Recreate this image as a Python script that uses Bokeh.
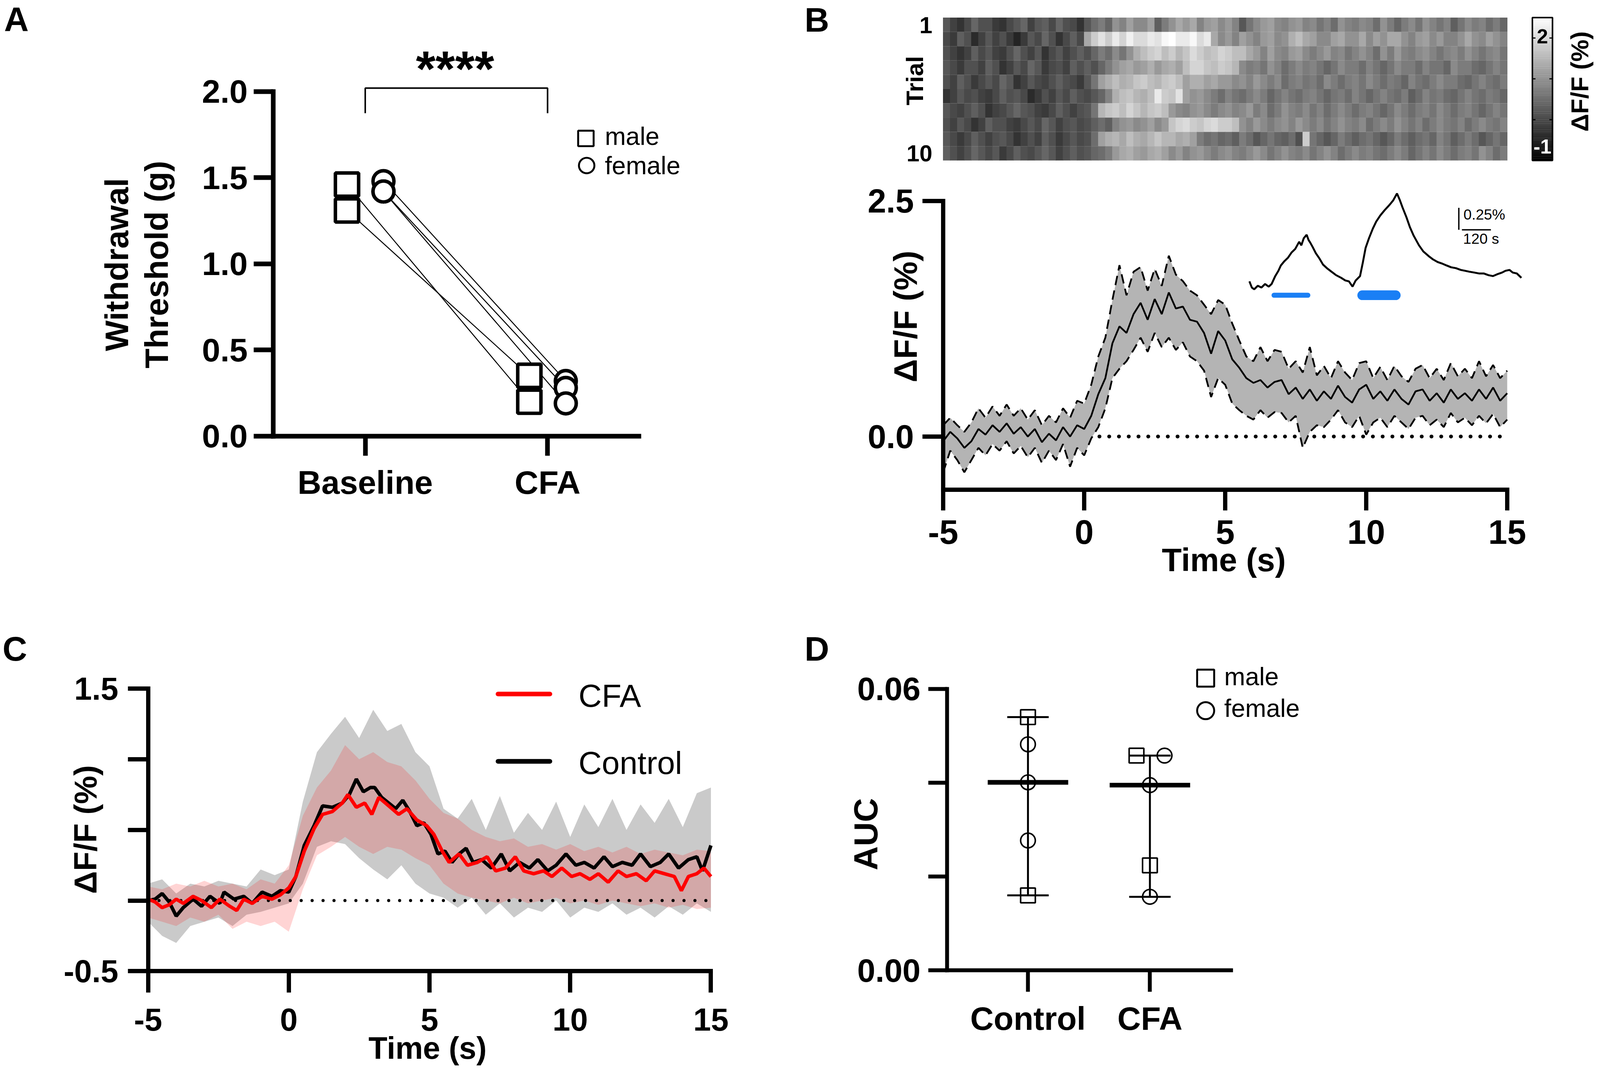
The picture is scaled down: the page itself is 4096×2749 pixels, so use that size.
import math
import statistics
from bokeh.plotting import figure
from bokeh.models import Range1d, Label, FixedTicker, PrintfTickFormatter, ColumnDataSource
from bokeh.layouts import row, column
from bokeh.embed import file_html
from bokeh.resources import INLINE
from bokeh.transform import linear_cmap

# ======================= DATA =======================
# Panel A: withdrawal threshold (g)
A_groups = ["Baseline", "CFA"]
A_male_baseline = [1.46, 1.31]
A_male_cfa = [0.20, 0.35]
A_female_baseline = [1.48, 1.42, 1.42]
A_female_cfa = [0.32, 0.28, 0.19]
A_sig = "****"

# Panel B heatmap: 10 trials x 80 time bins of 0.25 s starting at -5 s, dF/F (%)
B_heat_start, B_heat_bin = -5.0, 0.25
B_heat_rows = [
    [0.2, -0.1, -0.3, 0.0, 0.4, 0.1, 0.1, -0.2, -0.3, 0.0, 0.2, 0.4, -0.1, 0.2, 0.3, 0.0, 0.4, 0.1, 0.0, -0.3,
     0.2, 0.5, 0.7, 0.4, 1.0, 0.8, 1.2, 0.9, 0.9, 1.2, 0.3, 0.7, 1.0, 1.3, 1.1, 1.3, 0.8, 1.1, 1.2, 0.9,
     1.1, 0.8, 0.2, 0.6, 0.9, 1.1, 1.2, 0.9, 0.8, 1.0, 1.1, 0.8, 0.9, 0.6, 0.8, 0.5, 1.0, 0.8, 0.7, 0.9,
     0.8, 0.5, 1.0, 0.7, 0.4, 0.7, 0.9, 0.6, 1.0, 0.8, 0.6, 0.8, 0.3, 0.6, 0.9, 0.7, 0.8, 0.5, 0.7, 0.4],
    [0.0, -0.2, 0.3, 0.1, -0.4, -0.1, 0.2, -0.1, 0.1, -0.2, -0.5, -0.2, 0.2, 0.0, 0.4, 0.1, -0.3, 0.0, 0.3, 0.0,
     1.3, 1.8, 2.1, 1.8, 2.2, 1.9, 2.3, 2.0, 2.0, 2.2, 2.1, 2.4, 2.5, 2.2, 2.2, 2.4, 2.0, 2.2, 1.3, 0.9,
     1.1, 0.8, 1.2, 1.0, 0.8, 1.1, 1.2, 0.9, 1.0, 1.4, 1.6, 1.3, 1.2, 0.9, 0.9, 1.2, 1.3, 1.0, 1.0, 1.3,
     0.9, 1.2, 1.0, 1.3, 1.3, 1.0, 0.8, 1.1, 1.2, 0.9, 1.1, 0.8, 0.8, 1.0, 1.3, 1.0, 0.9, 1.2, 1.0, 0.8],
    [0.1, -0.1, -0.3, -0.1, 0.3, 0.0, 0.2, -0.1, -0.2, 0.1, 0.4, 0.1, -0.1, 0.2, -0.3, 0.0, 0.2, -0.1, 0.1, 0.3,
     0.1, 0.4, 0.7, 0.5, 0.9, 0.6, 1.0, 1.4, 1.6, 1.8, 1.9, 1.6, 1.8, 1.5, 1.7, 2.0, 1.8, 1.6, 1.7, 1.9,
     1.8, 1.6, 1.6, 1.3, 1.1, 0.8, 1.2, 0.9, 0.8, 1.1, 1.2, 0.9, 0.7, 0.9, 1.1, 0.8, 0.9, 0.6, 0.8, 1.0,
     0.8, 0.5, 1.0, 0.7, 1.1, 0.8, 0.7, 0.9, 1.0, 0.8, 0.6, 0.8, 0.9, 0.7, 1.0, 0.8, 0.6, 0.8, 0.9, 0.6],
    [0.2, 0.0, -0.2, 0.1, 0.1, -0.1, 0.3, 0.1, -0.3, -0.1, 0.2, 0.0, 0.4, 0.2, -0.2, 0.0, 0.1, -0.1, 0.3, 0.1,
     0.3, 0.1, 0.4, 0.7, 1.0, 1.2, 1.3, 1.1, 1.2, 1.4, 1.1, 1.3, 1.4, 1.2, 1.6, 1.9, 1.9, 1.7, 1.6, 1.8,
     1.7, 1.5, 0.9, 0.7, 0.8, 0.6, 1.0, 0.8, 0.5, 0.7, 0.9, 0.7, 0.8, 0.6, 0.4, 0.6, 0.9, 0.7, 0.7, 0.5,
     0.8, 0.6, 0.4, 0.6, 0.9, 0.7, 0.7, 0.5, 0.8, 0.6, 0.6, 0.4, 0.9, 0.7, 0.7, 0.5, 0.4, 0.6, 0.8, 0.6],
    [0.1, -0.1, 0.3, 0.1, -0.2, 0.0, 0.2, 0.0, 0.4, 0.2, -0.3, -0.1, 0.2, 0.0, -0.1, 0.1, 0.3, 0.1, 0.0, -0.2,
     0.2, 0.6, 1.2, 1.4, 1.6, 1.4, 1.5, 1.7, 1.8, 1.6, 1.5, 1.7, 1.8, 1.6, 1.2, 1.4, 1.4, 1.2, 1.3, 1.1,
     1.1, 0.9, 1.0, 0.8, 1.1, 0.9, 0.7, 0.9, 0.5, 0.7, 0.8, 0.6, 0.7, 0.5, 0.9, 0.7, 0.5, 0.7, 0.8, 0.6,
     0.9, 0.7, 0.5, 0.7, 0.6, 0.4, 0.8, 0.6, 0.5, 0.7, 0.9, 0.7, 0.7, 0.5, 0.4, 0.6, 0.8, 0.6, 0.5, 0.7],
    [-0.3, -0.1, 0.2, 0.0, 0.1, -0.1, -0.2, 0.0, 0.3, 0.1, 0.2, 0.0, -0.4, -0.2, 0.1, -0.1, 0.2, 0.0, 0.3, 0.1,
     0.0, 0.2, 0.4, 0.8, 1.4, 1.6, 1.7, 1.5, 1.4, 1.6, 2.2, 1.8, 1.7, 2.1, 1.2, 1.0, 1.1, 0.9, 0.7, 0.5,
     0.8, 0.6, 0.5, 0.7, 0.9, 0.7, 0.4, 0.6, 0.8, 0.6, 0.5, 0.7, 0.8, 0.6, 0.4, 0.6, 0.7, 0.5, 0.8, 0.6,
     0.4, 0.6, 0.8, 0.6, 0.5, 0.7, 0.3, 0.5, 0.8, 0.6, 0.7, 0.5, 0.4, 0.6, 0.8, 0.6, 0.5, 0.7, 0.6, 0.4],
    [0.2, 0.0, -0.1, 0.1, 0.3, 0.1, -0.3, -0.1, 0.0, 0.2, 0.4, 0.2, 0.1, -0.1, -0.2, 0.0, 0.3, 0.1, -0.1, 0.1,
     0.2, 0.6, 1.5, 1.7, 1.8, 1.6, 1.9, 1.7, 1.5, 1.7, 1.8, 1.6, 1.1, 0.9, 0.8, 1.0, 1.1, 0.9, 0.7, 0.9,
     1.0, 0.8, 0.9, 1.1, 0.7, 0.9, 0.5, 0.7, 1.0, 0.8, 0.7, 0.9, 0.6, 0.8, 0.5, 0.7, 0.9, 0.7, 0.5, 0.7,
     0.8, 0.6, 0.4, 0.6, 0.9, 0.7, 0.5, 0.7, 0.8, 0.6, 0.9, 0.7, 0.5, 0.7, 0.8, 0.6, 0.4, 0.6, 0.8, 0.6],
    [0.1, -0.1, 0.2, 0.0, -0.3, -0.1, 0.3, 0.1, 0.1, -0.1, -0.2, 0.0, 0.2, 0.0, 0.4, 0.2, -0.1, 0.1, 0.2, 0.0,
     0.1, 0.3, 0.5, 0.3, 0.8, 1.0, 1.1, 0.9, 1.0, 1.2, 0.9, 1.1, 1.7, 1.9, 2.0, 1.8, 1.7, 1.9, 2.0, 1.8,
     1.8, 1.6, 1.0, 0.8, 1.1, 0.9, 0.7, 0.9, 1.0, 0.8, 1.1, 0.9, 0.7, 0.9, 0.6, 0.8, 1.0, 0.8, 0.7, 0.9,
     0.5, 0.7, 0.9, 0.7, 1.0, 0.8, 0.6, 0.8, 0.5, 0.7, 0.9, 0.7, 0.6, 0.8, 0.5, 0.7, 0.9, 0.7, 0.6, 0.8],
    [0.2, 0.0, -0.2, 0.0, 0.3, 0.1, -0.1, 0.1, 0.2, 0.0, -0.3, -0.1, 0.1, -0.1, 0.3, 0.1, -0.2, 0.0, 0.2, 0.0,
     0.1, 0.5, 1.2, 1.4, 1.5, 1.3, 1.6, 1.4, 1.3, 1.5, 1.7, 1.5, 1.5, 1.3, 1.4, 1.2, 0.7, 0.5, 0.6, 0.4,
     0.5, 0.3, 0.7, 0.5, 0.2, 0.4, 0.6, 0.4, 0.3, 0.5, 0.1, 1.8, 0.6, 0.4, 0.2, 0.4, 0.7, 0.5, 0.3, 0.5,
     0.6, 0.4, 0.2, 0.4, 0.7, 0.5, 0.3, 0.5, 0.6, 0.4, 0.8, 0.6, 0.3, 0.5, 0.7, 0.5, 0.2, 0.4, 0.6, 0.4],
    [0.3, 0.1, -0.1, 0.1, 0.4, 0.2, 0.0, 0.2, -0.2, 0.0, 0.3, 0.1, 0.0, 0.2, 0.4, 0.2, -0.1, 0.1, 0.3, 0.1,
     0.2, 0.4, 0.5, 0.7, 1.1, 1.3, 1.4, 1.2, 1.1, 1.3, 1.4, 1.2, 0.9, 1.1, 0.8, 1.0, 1.1, 0.9, 0.7, 0.9,
     1.0, 0.8, 0.7, 0.9, 1.1, 0.9, 0.6, 0.8, 1.0, 0.8, 0.7, 0.9, 0.6, 0.8, 1.0, 0.8, 0.5, 0.7, 0.9, 0.7,
     0.8, 0.6, 0.5, 0.7, 0.9, 0.7, 0.4, 0.6, 0.8, 0.6, 0.9, 0.7, 0.5, 0.7, 0.8, 0.6, 1.0, 0.8, 0.5, 0.7],
]
B_heat_low, B_heat_high = -1.0, 2.5

# Panel B average trace (mean, mean+SEM, mean-SEM)
B_t = [-5.0, -4.75, -4.5, -4.25, -4.0, -3.75, -3.5, -3.25, -3.0, -2.75,
       -2.5, -2.25, -2.0, -1.75, -1.5, -1.25, -1.0, -0.75, -0.5, -0.25,
       0.0, 0.25, 0.5, 0.75, 1.0, 1.25, 1.5, 1.75, 2.0, 2.25,
       2.5, 2.75, 3.0, 3.25, 3.5, 3.75, 4.0, 4.25, 4.5, 4.75,
       5.0, 5.25, 5.5, 5.75, 6.0, 6.25, 6.5, 6.75, 7.0, 7.25,
       7.5, 7.75, 8.0, 8.25, 8.5, 8.75, 9.0, 9.25, 9.5, 9.75,
       10.0, 10.25, 10.5, 10.75, 11.0, 11.25, 11.5, 11.75, 12.0, 12.25,
       12.5, 12.75, 13.0, 13.25, 13.5, 13.75, 14.0, 14.25, 14.5, 14.75, 15.0]
B_mean = [-0.05, 0.05, -0.02, -0.12, -0.05, 0.08, 0.02, 0.12, 0.05, 0.14,
          0.03, 0.10, 0.0, 0.08, -0.06, 0.03, -0.04, 0.10, 0.0, 0.12,
          0.08, 0.22, 0.45, 0.62, 0.99, 1.17, 1.10, 1.30, 1.42, 1.24,
          1.46, 1.30, 1.53, 1.36, 1.38, 1.24, 1.22, 1.10, 0.88, 1.12,
          1.02, 0.82, 0.73, 0.62, 0.57, 0.60, 0.52, 0.58, 0.60, 0.45,
          0.52, 0.40, 0.50, 0.38, 0.48, 0.40, 0.54, 0.42, 0.36, 0.50,
          0.55, 0.40, 0.48, 0.38, 0.50, 0.40, 0.34, 0.48, 0.50, 0.38,
          0.46, 0.36, 0.50, 0.40, 0.46, 0.38, 0.50, 0.40, 0.52, 0.38, 0.46]
B_upper = [0.12, 0.20, 0.12, 0.05, 0.15, 0.30, 0.20, 0.32, 0.22, 0.34,
           0.22, 0.30, 0.18, 0.28, 0.12, 0.22, 0.15, 0.30, 0.20, 0.38,
           0.35, 0.55, 0.85, 1.05, 1.45, 1.82, 1.50, 1.75, 1.80, 1.55,
           1.78, 1.60, 1.92, 1.72, 1.65, 1.55, 1.50, 1.40, 1.30, 1.45,
           1.40, 1.20, 1.02, 0.85, 0.80, 0.95, 0.80, 0.92, 0.90, 0.72,
           0.80, 0.68, 0.95, 0.65, 0.75, 0.62, 0.80, 0.68, 0.60, 0.78,
           0.80, 0.62, 0.74, 0.60, 0.75, 0.64, 0.58, 0.72, 0.76, 0.62,
           0.72, 0.60, 0.78, 0.64, 0.72, 0.62, 0.80, 0.64, 0.76, 0.62, 0.70]
B_lower = [-0.38, -0.15, -0.25, -0.38, -0.25, -0.12, -0.20, -0.08, -0.15, -0.05,
           -0.18, -0.10, -0.22, -0.12, -0.28, -0.15, -0.25, -0.08, -0.32, -0.12,
           -0.20, -0.02, 0.10, 0.30, 0.62, 0.72, 0.80, 0.92, 1.05, 0.90,
           1.10, 0.95, 1.05, 0.92, 1.00, 0.85, 0.80, 0.70, 0.42, 0.62,
           0.55, 0.35, 0.28, 0.22, 0.18, 0.28, 0.20, 0.26, 0.25, 0.15,
           0.22, -0.12, 0.05, 0.12, 0.10, 0.18, 0.28, 0.15, 0.10, 0.22,
           0.02, 0.15, 0.20, 0.10, 0.22, 0.15, 0.08, 0.20, 0.22, 0.12,
           0.18, 0.10, 0.25, 0.15, 0.20, 0.12, 0.22, 0.14, 0.24, 0.10, 0.18]

# Panel B inset: example trace (time in s, dF/F in %) and stimulus epochs
B_inset_t = [0, 10, 20, 35, 50, 65, 80, 92, 107, 120,
             130, 145, 160, 175, 190, 206, 215, 225, 237, 245,
             252, 262, 275, 290, 305, 321, 340, 359, 380, 397,
             412, 427, 440, 458, 470, 481, 495, 511, 525, 542,
             560, 580, 595, 611, 622, 634, 650, 664, 680, 702,
             720, 741, 760, 779, 800, 817, 835, 855, 875, 893,
             910, 931, 950, 970, 990, 1008, 1025, 1046, 1060, 1077,
             1090, 1107, 1126]
B_inset_v = [0.03, -0.04, -0.06, -0.02, -0.04, 0.00, -0.03, 0.00, 0.09, 0.15,
             0.21, 0.26, 0.30, 0.36, 0.40, 0.48, 0.44, 0.52, 0.56, 0.50,
             0.47, 0.42, 0.35, 0.29, 0.22, 0.18, 0.14, 0.10, 0.07, 0.04,
             0.03, -0.03, 0.04, 0.09, 0.25, 0.41, 0.52, 0.63, 0.71, 0.78,
             0.84, 0.90, 0.95, 1.03, 0.96, 0.87, 0.76, 0.65, 0.55, 0.44,
             0.37, 0.32, 0.28, 0.25, 0.23, 0.21, 0.19, 0.18, 0.16, 0.15,
             0.14, 0.13, 0.12, 0.12, 0.10, 0.09, 0.11, 0.13, 0.15, 0.16,
             0.13, 0.12, 0.07]
B_stim_on = [102, 467]
B_stim_off = [242, 606]
B_scale_pct = 0.25
B_scale_s = 120

# Panel C: CFA vs Control average traces
C_ctrl_t = [-5.0, -4.75, -4.5, -4.25, -4.0, -3.75, -3.4, -3.1, -2.8, -2.45, -2.3, -1.95, -1.6, -1.3, -0.95,
            -0.6, -0.3, 0.0, 0.25, 0.55, 0.9, 1.2, 1.55, 1.9, 2.15, 2.4, 2.65, 2.9, 3.05, 3.3, 3.55, 3.8,
            4.05, 4.3, 4.55, 4.8, 5.05, 5.3, 5.55, 5.8, 6.05, 6.3, 6.55, 6.85, 7.2, 7.55, 7.85, 8.2, 8.55,
            8.85, 9.2, 9.5, 9.85, 10.2, 10.5, 10.85, 11.2, 11.5, 11.85, 12.2, 12.5, 12.85, 13.2, 13.5,
            13.85, 14.2, 14.5, 14.7, 15.0]
C_ctrl = [0.0, 0.01, 0.05, -0.01, -0.11, -0.05, 0.01, -0.04, 0.03, -0.02, 0.06, 0.01, 0.03, -0.02, 0.06,
          0.03, 0.07, 0.06, 0.17, 0.39, 0.53, 0.67, 0.66, 0.69, 0.75, 0.86, 0.77, 0.80, 0.80, 0.73, 0.69, 0.65,
          0.71, 0.63, 0.53, 0.55, 0.47, 0.33, 0.35, 0.27, 0.33, 0.37, 0.27, 0.29, 0.23, 0.33, 0.21, 0.27, 0.23,
          0.29, 0.21, 0.25, 0.33, 0.25, 0.27, 0.23, 0.31, 0.24, 0.27, 0.25, 0.33, 0.24, 0.27, 0.33,
          0.23, 0.29, 0.31, 0.21, 0.39]
C_cfa_t = [-5.0, -4.75, -4.5, -4.25, -4.0, -3.75, -3.4, -3.1, -2.75, -2.45, -2.1, -1.85, -1.6, -1.3, -0.95,
           -0.6, -0.3, 0.0, 0.25, 0.55, 0.9, 1.2, 1.55, 1.9, 2.1, 2.4, 2.7, 2.95, 3.2, 3.55, 3.9, 4.2, 4.55,
           4.9, 5.15, 5.45, 5.7, 6.05, 6.35, 6.7, 7.05, 7.35, 7.7, 8.05, 8.35, 8.7, 9.05, 9.35, 9.7, 10.05,
           10.35, 10.7, 11.0, 11.35, 11.7, 12.0, 12.35, 12.7, 13.0, 13.35, 13.7, 13.95, 14.2, 14.5, 14.75, 15.0]
C_cfa = [0.01, -0.01, -0.05, -0.03, 0.01, -0.02, 0.03, 0.0, -0.05, 0.01, -0.04, -0.07, 0.01, -0.02, 0.03,
         0.01, 0.04, 0.09, 0.17, 0.35, 0.51, 0.61, 0.63, 0.69, 0.75, 0.66, 0.69, 0.61, 0.73, 0.67, 0.61, 0.65, 0.57,
         0.53, 0.47, 0.35, 0.27, 0.33, 0.25, 0.27, 0.31, 0.21, 0.23, 0.31, 0.21, 0.19, 0.21, 0.17, 0.23, 0.17,
         0.19, 0.15, 0.19, 0.13, 0.21, 0.17, 0.19, 0.14, 0.21, 0.19, 0.17, 0.07, 0.17, 0.19, 0.23, 0.17]
C_band_t = [-5.0, -4.5, -4.0, -3.5, -3.0, -2.5, -2.0, -1.5, -1.0, -0.5, 0.0, 0.5, 1.0, 1.5, 2.0, 2.5, 3.0,
            3.5, 4.0, 4.5, 5.0, 5.5, 6.0, 6.5, 7.0, 7.5, 8.0, 8.5, 9.0, 9.5, 10.0, 10.5, 11.0, 11.5, 12.0,
            12.5, 13.0, 13.5, 14.0, 14.5, 15.0]
C_ctrl_up = [0.12, 0.15, 0.05, 0.12, 0.10, 0.14, 0.12, 0.10, 0.22, 0.18, 0.22, 0.70, 1.05, 1.18, 1.30, 1.15, 1.35,
             1.20, 1.25, 1.05, 0.95, 0.65, 0.58, 0.72, 0.50, 0.74, 0.48, 0.62, 0.50, 0.70, 0.45, 0.68, 0.52,
             0.72, 0.50, 0.68, 0.55, 0.72, 0.52, 0.76, 0.80]
C_ctrl_lo = [-0.15, -0.25, -0.30, -0.18, -0.15, -0.12, -0.18, -0.10, -0.08, -0.05, -0.02, 0.12, 0.38, 0.42, 0.40,
             0.30, 0.22, 0.15, 0.25, 0.12, 0.05, 0.02, -0.05, 0.02, -0.10, -0.02, -0.12, -0.05, -0.08, 0.0,
             -0.12, -0.05, -0.08, -0.02, -0.10, -0.05, -0.12, -0.04, -0.10, -0.02, -0.08]
C_cfa_up = [0.10, 0.08, 0.12, 0.10, 0.14, 0.10, 0.12, 0.08, 0.15, 0.12, 0.25, 0.60, 0.80, 0.92, 1.10, 1.00, 1.05,
            0.98, 0.95, 0.85, 0.72, 0.62, 0.58, 0.50, 0.45, 0.42, 0.44, 0.38, 0.40, 0.36, 0.40, 0.35, 0.38,
            0.34, 0.38, 0.33, 0.36, 0.34, 0.32, 0.36, 0.35]
C_cfa_lo = [-0.12, -0.15, -0.18, -0.12, -0.15, -0.10, -0.20, -0.15, -0.18, -0.15, -0.22, 0.08, 0.32, 0.38, 0.45,
            0.38, 0.33, 0.38, 0.36, 0.30, 0.25, 0.12, 0.05, 0.02, 0.0, -0.02, 0.02, -0.02, 0.0, 0.02, -0.02,
            0.0, -0.03, 0.0, -0.02, -0.04, -0.02, -0.05, -0.03, -0.06, -0.05]

# Panel D: AUC
D_groups = ["Control", "CFA"]
D_ctrl_male = [0.0540, 0.0160]
D_ctrl_female = [0.0482, 0.0401, 0.0277]
D_cfa_male = [0.0458, 0.0224]
D_cfa_female = [0.0458, 0.0395, 0.0157]

assert len(B_t) == len(B_mean) == len(B_upper) == len(B_lower)
assert len(B_inset_t) == len(B_inset_v)
assert len(C_ctrl_t) == len(C_ctrl) and len(C_cfa_t) == len(C_cfa)
assert len(C_band_t) == len(C_ctrl_up) == len(C_ctrl_lo) == len(C_cfa_up) == len(C_cfa_lo)
assert all(len(r) == 80 for r in B_heat_rows), [len(r) for r in B_heat_rows]

# ======================= LAYOUT HELPERS =======================
S = 0.991
W_TOTAL, H_TOTAL = 4080, 2733
XS = round(2060 * S)
YS = round(1560 * S)
YH = round(460 * S)
FONT = "Liberation Sans"


def lin(ra, va, rb, vb):
    k = (vb - va) / (rb - ra)
    return lambda r: va + (r - ra) * k


def fs(r):
    return f"{r * S:.1f}px"


def mk(ox, oy, w, h, xmap, ymap, axes=True):
    """Figure whose plotting frame covers its whole canvas; (ox, oy) its page offset in px."""
    fx = lin(*xmap)
    fy = lin(*ymap)
    xr = Range1d(fx(ox / S), fx((ox + w) / S))
    yr = Range1d(fy((oy + h) / S), fy(oy / S))
    kw = {}
    if not axes:
        kw = dict(x_axis_type=None, y_axis_type=None)
    p = figure(width=w, height=h, x_range=xr, y_range=yr, output_backend="svg",
               toolbar_location=None, title_location=None, min_border=0, frame_align=False, **kw)
    p.outline_line_color = None
    p.grid.visible = False
    p.background_fill_color = "white"
    p.border_fill_color = "white"
    return p, fx, fy


def style_axis(ax, lw, tick, size, standoff):
    ax.axis_line_width = lw * S
    ax.axis_line_color = "black"
    ax.axis_line_cap = "square"
    ax.major_tick_line_width = lw * S
    ax.major_tick_line_color = "black"
    ax.major_tick_in = 0
    ax.major_tick_out = round(tick * S)
    ax.minor_tick_line_width = lw * S
    ax.minor_tick_line_color = "black"
    ax.minor_tick_in = 0
    ax.minor_tick_out = round(tick * S)
    ax.major_label_text_font = FONT
    ax.major_label_text_font_size = fs(size)
    ax.major_label_text_font_style = "bold"
    ax.major_label_text_color = "black"
    ax.major_label_standoff = round(standoff * S)


def lab(p, fx, fy, rx, ry, text, size, bold=True, align="left", baseline="middle",
        angle=0.0, color="black"):
    p.add_layout(Label(x=fx(rx), y=fy(ry), text=text, text_font=FONT, text_font_size=fs(size),
                       text_font_style="bold" if bold else "normal", text_align=align,
                       text_baseline=baseline, angle=angle, text_color=color))


# ======================= PANEL A =======================
pA, fxA, fyA = mk(0, 0, XS, YS, (943, 0, 1414, 1), (1126, 0, 236, 2))
ya = pA.yaxis[0]
style_axis(ya, 12, 50, 85, 15)
ya.ticker = FixedTicker(ticks=[0, 0.5, 1.0, 1.5, 2.0], minor_ticks=[])
ya.formatter = PrintfTickFormatter(format="%.1f")
ya.bounds = (0, 2)
ya.fixed_location = fxA(705)
xa = pA.xaxis[0]
style_axis(xa, 12, 50, 85, 22)
xa.ticker = FixedTicker(ticks=[0, 1], minor_ticks=[])
xa.major_label_overrides = {0: A_groups[0], 1: A_groups[1]}
xa.bounds = (fxA(705), fxA(1650))
xa.fixed_location = 0

OFF = 0.1
xs_l, ys_l = [], []
for b, c in zip(A_male_baseline, A_male_cfa):
    xs_l.append([0 - OFF, 1 - OFF]); ys_l.append([b, c])
for b, c in zip(A_female_baseline, A_female_cfa):
    xs_l.append([0 + OFF, 1 + OFF]); ys_l.append([b, c])
pA.multi_line(xs_l, ys_l, line_color="black", line_width=2.5 * S)
pA.scatter([0 - OFF] * len(A_male_baseline) + [1 - OFF] * len(A_male_cfa), A_male_baseline + A_male_cfa,
           marker="square", size=60 * S, line_color="black", line_width=9 * S, fill_color="white")
pA.scatter([0 + OFF] * len(A_female_baseline) + [1 + OFF] * len(A_female_cfa), A_female_baseline + A_female_cfa,
           marker="circle", size=54 * S, line_color="black", line_width=9 * S, fill_color="white")
# significance bracket
pA.line([0, 0, 1, 1], [fyA(292), fyA(227), fyA(227), fyA(292)], line_color="black", line_width=4 * S)
lab(pA, fxA, fyA, 1175, 176, A_sig, 130, align="center", baseline="alphabetic")
# legend
pA.scatter([fxA(1513)], [fyA(357)], marker="square", size=40 * S, line_color="black", line_width=5 * S,
           fill_color="white")
pA.scatter([fxA(1515)], [fyA(427)], marker="circle", size=40 * S, line_color="black", line_width=5 * S,
           fill_color="white")
lab(pA, fxA, fyA, 1562, 352, "male", 65, bold=False)
lab(pA, fxA, fyA, 1562, 427, "female", 65, bold=False)
# titles
lab(pA, fxA, fyA, 302, 683, "Withdrawal", 84, align="center", angle=math.pi / 2)
lab(pA, fxA, fyA, 405, 683, "Threshold (g)", 84, align="center", angle=math.pi / 2)
lab(pA, fxA, fyA, 10, 48, "A", 88)

# ======================= PANEL B: heatmap =======================
pH, fxH, fyH = mk(XS, 0, W_TOTAL - XS, YH, (2436, -5, 3893, 15), (45, 0.5, 414, 10.5), axes=False)
GRAYS = ["#%02x%02x%02x" % (i, i, i) for i in range(256)]
hx, hy, hv = [], [], []
for i, r in enumerate(B_heat_rows):
    for k, v in enumerate(r):
        hx.append(B_heat_start + (k + 0.5) * B_heat_bin); hy.append(i + 1); hv.append(v)
hsrc = ColumnDataSource(dict(x=hx, y=hy, v=hv))
pH.rect(x="x", y="y", width=B_heat_bin * 1.06, height=1.0, source=hsrc,
        fill_color=linear_cmap("v", GRAYS, B_heat_low, B_heat_high), line_color=None)
# colorbar
NCB = 70
cb_v = [B_heat_low + (B_heat_high - B_heat_low) * (i + 0.5) / NCB for i in range(NCB)]
cb_R = [414 - (v - B_heat_low) / (B_heat_high - B_heat_low) * 369 for v in cb_v]
cbx = fxH(3984)
cbw = fxH(4010) - fxH(3958)
cb_src = ColumnDataSource(dict(x=[cbx] * NCB, y=[fyH(r) for r in cb_R], v=cb_v))
pH.rect(x="x", y="y", width=cbw, height=(369 / NCB) / 36.9 * 1.05, source=cb_src,
        fill_color=linear_cmap("v", GRAYS, B_heat_low, B_heat_high), line_color=None)
pH.rect(x=[cbx], y=[fyH(229.5)], width=cbw, height=369 / 36.9, fill_color=None, line_color="black",
        line_width=4 * S)
tk_vals = [2, 1, 0]
tk_y = [fyH(414 - (v - B_heat_low) / (B_heat_high - B_heat_low) * 369) for v in tk_vals]
tkl = 8 / 72.85
pH.segment(x0=[fxH(3958)] * 3 + [fxH(4010)] * 3, x1=[fxH(3958) + tkl] * 3 + [fxH(4010) - tkl] * 3,
           y0=tk_y + tk_y, y1=tk_y + tk_y, line_color="black", line_width=3 * S)
lab(pH, fxH, fyH, 3984, 93, "2", 52, align="center")
lab(pH, fxH, fyH, 3984, 378, "-1", 52, align="center", color="white")
lab(pH, fxH, fyH, 4080, 210, "\u0394F/F (%)", 64, align="center", angle=math.pi / 2)
lab(pH, fxH, fyH, 2362, 208, "Trial", 62, align="center", angle=math.pi / 2)
lab(pH, fxH, fyH, 2408, 65, "1", 60, align="right")
lab(pH, fxH, fyH, 2408, 396, "10", 60, align="right")
lab(pH, fxH, fyH, 2078, 50, "B", 88)

# ======================= PANEL B: trace =======================
pT, fxT, fyT = mk(XS, YH, W_TOTAL - XS, YS - YH, (2436, -5, 3893, 15), (1127, 0, 519, 2.5))
yb = fyT(1264)
ya = pT.yaxis[0]
style_axis(ya, 11, 53, 86, 22)
ya.ticker = FixedTicker(ticks=[0, 2.5], minor_ticks=[])
ya.formatter = PrintfTickFormatter(format="%.1f")
ya.bounds = (yb, 2.5)
ya.fixed_location = -5
xa = pT.xaxis[0]
style_axis(xa, 11, 53, 88, 25)
xa.ticker = FixedTicker(ticks=[-5, 0, 5, 10, 15], minor_ticks=[])
xa.formatter = PrintfTickFormatter(format="%d")
xa.bounds = (-5, 15)
xa.fixed_location = yb

pT.line([-5, 15], [0, 0], line_color="black", line_width=10 * S, line_dash="0 25", line_cap="round")
pT.varea(x=B_t, y1=B_lower, y2=B_upper, fill_color="#b4b4b4")
pT.line(B_t, B_upper, line_color="black", line_width=4.5 * S, line_dash="24 14")
pT.line(B_t, B_lower, line_color="black", line_width=4.5 * S, line_dash="24 14")
pT.line(B_t, B_mean, line_color="black", line_width=4.5 * S)

gx = lin(3227, 0, 3227 + 62.4, 100)
gy = lin(733, 0, 733 - 227, 1)
pT.extra_x_ranges = {"ix": Range1d(gx(XS / S), gx(W_TOTAL / S))}
pT.extra_y_ranges = {"iy": Range1d(gy(YS / S), gy(YH / S))}
pT.line(B_inset_t, B_inset_v, x_range_name="ix", y_range_name="iy", line_color="black", line_width=5 * S)
bar_y = gy(762)
pT.segment(x0=[B_stim_on[0]], x1=[B_stim_off[0]], y0=[bar_y], y1=[bar_y], x_range_name="ix", y_range_name="iy",
           line_color="#1a7ff5", line_width=13 * S, line_cap="round")
pT.segment(x0=[B_stim_on[1]], x1=[B_stim_off[1]], y0=[bar_y], y1=[bar_y], x_range_name="ix", y_range_name="iy",
           line_color="#1a7ff5", line_width=25 * S, line_cap="round")
sb_x, sb_y = gx(3768), gy(593)
pT.segment(x0=[sb_x], x1=[sb_x], y0=[sb_y], y1=[sb_y + B_scale_pct], x_range_name="ix", y_range_name="iy",
           line_color="black", line_width=3.5 * S)
pT.segment(x0=[gx(3776)], x1=[gx(3776) + B_scale_s], y0=[sb_y], y1=[sb_y], x_range_name="ix", y_range_name="iy",
           line_color="black", line_width=3.5 * S)
lab(pT, fxT, fyT, 3780, 553, "0.25%", 38, bold=False)
lab(pT, fxT, fyT, 3779, 616, "120 s", 38, bold=False)
lab(pT, fxT, fyT, 2339, 817, "\u0394F/F (%)", 84, align="center", angle=math.pi / 2)
lab(pT, fxT, fyT, 3161, 1446, "Time (s)", 84, align="center")

# ======================= PANEL C =======================
pC, fxC, fyC = mk(0, YS, XS, H_TOTAL - YS, (382, -5, 1836, 15), (2508, -0.5, 1778, 1.5))
ya = pC.yaxis[0]
style_axis(ya, 11, 52, 82, 24)
ya.ticker = FixedTicker(ticks=[-0.5, 1.5], minor_ticks=[0, 0.5, 1.0])
ya.formatter = PrintfTickFormatter(format="%.1f")
ya.bounds = (-0.5, 1.5)
ya.fixed_location = -5
xa = pC.xaxis[0]
style_axis(xa, 11, 55, 82, 40)
xa.ticker = FixedTicker(ticks=[-5, 0, 5, 10, 15], minor_ticks=[])
xa.formatter = PrintfTickFormatter(format="%d")
xa.bounds = (-5, 15)
xa.fixed_location = -0.5

pC.varea(x=C_band_t, y1=C_ctrl_lo, y2=C_ctrl_up, fill_color="#cacaca")
pC.varea(x=C_band_t, y1=C_cfa_lo, y2=C_cfa_up, fill_color="#ff0000", fill_alpha=0.17)
pC.line([-5, 15], [0, 0], line_color="black", line_width=8 * S, line_dash="0 28", line_cap="round")
pC.line(C_ctrl_t, C_ctrl, line_color="black", line_width=9 * S)
pC.line(C_cfa_t, C_cfa, line_color="#ff0000", line_width=9 * S)
# legend
pC.segment(x0=[fxC(1286)], x1=[fxC(1420)], y0=[fyC(1792)], y1=[fyC(1792)], line_color="#ff0000",
           line_width=12 * S, line_cap="round")
pC.segment(x0=[fxC(1286)], x1=[fxC(1420)], y0=[fyC(1966)], y1=[fyC(1966)], line_color="black",
           line_width=12 * S, line_cap="round")
lab(pC, fxC, fyC, 1494, 1796, "CFA", 83, bold=False)
lab(pC, fxC, fyC, 1494, 1969, "Control", 83, bold=False)
lab(pC, fxC, fyC, 220, 2142, "\u0394F/F (%)", 82, align="center", angle=math.pi / 2)
lab(pC, fxC, fyC, 1104, 2706, "Time (s)", 80, align="center")
lab(pC, fxC, fyC, 6, 1675, "C", 88)

# ======================= PANEL D =======================
pD, fxD, fyD = mk(XS, YS, W_TOTAL - XS, H_TOTAL - YS, (2655, 0, 2970, 1), (2506, 0, 1779, 0.06))
ya = pD.yaxis[0]
style_axis(ya, 10, 48, 84, 20)
ya.ticker = FixedTicker(ticks=[0, 0.06], minor_ticks=[0.02, 0.04])
ya.formatter = PrintfTickFormatter(format="%.2f")
ya.bounds = (0, 0.06)
ya.fixed_location = fxD(2446)
xa = pD.xaxis[0]
style_axis(xa, 10, 55, 84, 22)
xa.ticker = FixedTicker(ticks=[0, 1], minor_ticks=[])
xa.major_label_overrides = {0: D_groups[0], 1: D_groups[1]}
xa.bounds = (fxD(2446), fxD(3180))
xa.fixed_location = 0

for gi, vals in enumerate([D_ctrl_male + D_ctrl_female, D_cfa_male + D_cfa_female]):
    lo, hi, med = min(vals), max(vals), statistics.median(vals)
    pD.segment(x0=[gi], x1=[gi], y0=[lo], y1=[hi], line_color="black", line_width=5 * S)
    pD.segment(x0=[gi - 0.17, gi - 0.17], x1=[gi + 0.17, gi + 0.17], y0=[lo, hi], y1=[lo, hi],
               line_color="black", line_width=5 * S)
    pD.segment(x0=[gi - 0.33], x1=[gi + 0.33], y0=[med], y1=[med], line_color="black", line_width=12 * S)

pD.scatter([0] * len(D_ctrl_male) + [1 - 0.11, 1], D_ctrl_male + D_cfa_male, marker="square", size=38 * S,
           line_color="black", line_width=4 * S, fill_alpha=0)
pD.scatter([0] * len(D_ctrl_female) + [1 + 0.12, 1, 1], D_ctrl_female + D_cfa_female, marker="circle",
           size=38 * S, line_color="black", line_width=4 * S, fill_alpha=0)
pD.scatter([fxD(3114)], [fyD(1751)], marker="square", size=44 * S, line_color="black", line_width=5 * S,
           fill_alpha=0)
pD.scatter([fxD(3114)], [fyD(1835)], marker="circle", size=44 * S, line_color="black", line_width=5 * S,
           fill_alpha=0)
lab(pD, fxD, fyD, 3162, 1747, "male", 65, bold=False)
lab(pD, fxD, fyD, 3162, 1829, "female", 65, bold=False)
lab(pD, fxD, fyD, 2236, 2154, "AUC", 86, align="center", angle=math.pi / 2)
lab(pD, fxD, fyD, 2078, 1675, "D", 88)

layout = row(column(pA, pC), column(pH, pT, pD))
open("out.html", "w").write(file_html(layout, INLINE))
